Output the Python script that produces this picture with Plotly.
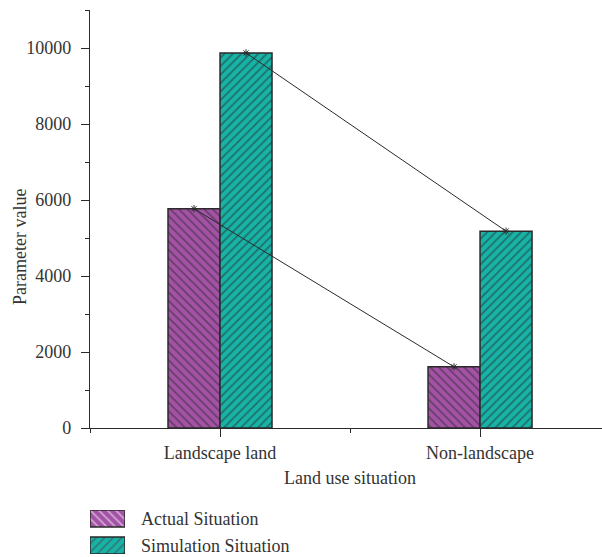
import plotly.graph_objects as go

# Data
categories = ["Landscape land", "Non-landscape"]
actual = [5770, 1610]
simulation = [9870, 5180]
series_names = ["Actual Situation", "Simulation Situation"]
y_ticks = [0, 2000, 4000, 6000, 8000, 10000]
y_tick_text = ["0", "2000", "4000", "6000", "8000", "10000"]

# Styling
PURPLE = "#a452a6"
TEAL = "#17b3a7"
DARK = "#2a2a2a"
FONT = "Liberation Serif"
BAR_W = 0.2
W, H = 602, 557
ML, MT = 90, 10
PW, PH = W - ML, H - MT

def px_x(p):
    return (p - ML) / PW

def px_y(p):
    return (H - p) / PH

xpos = list(range(len(categories)))

fig = go.Figure()

for vals, name, col, shape in [
    (actual, series_names[0], PURPLE, "\\"),
    (simulation, series_names[1], TEAL, "/"),
]:
    fig.add_trace(go.Bar(
        x=xpos, y=vals, name=name, width=BAR_W,
        marker=dict(color=col, line=dict(color=DARK, width=1.5),
                    pattern=dict(shape=shape, fgcolor=DARK, bgcolor=col,
                                 size=6, solidity=0.3, fillmode="overlay")),
        showlegend=False,
    ))

# connecting lines between bar tops of the same series
for vals, off in [(actual, -BAR_W / 2), (simulation, BAR_W / 2)]:
    fig.add_trace(go.Scatter(
        x=[i + off for i in xpos], y=vals, mode="lines+markers",
        line=dict(color=DARK, width=1),
        marker=dict(symbol="asterisk-open", size=6, color=DARK,
                    line=dict(color=DARK, width=1)),
        showlegend=False, cliponaxis=False,
    ))

# legend swatches
fig.add_trace(go.Bar(
    x=[1, 1], y=[1, 0], orientation="h", width=0.63,
    xaxis="x2", yaxis="y2", showlegend=False,
    marker=dict(color=[PURPLE, TEAL], line=dict(color=DARK, width=1.5),
                pattern=dict(shape=["\\", "/"], fgcolor=DARK,
                             size=6, solidity=0.3, fillmode="overlay")),
))

fig.update_layout(
    width=W, height=H,
    margin=dict(l=ML, r=0, t=MT, b=0, autoexpand=False),
    plot_bgcolor="white", paper_bgcolor="white",
    barmode="group", bargap=0.6, bargroupgap=0,
    font=dict(family=FONT, size=18, color="#333333"),
    xaxis=dict(
        domain=[0, 1], range=[-0.5, 1.469], automargin=False,
        tickvals=xpos, ticktext=categories,
        ticks="outside", ticklen=8, tickcolor=DARK, tickwidth=1.3,
        showline=True, linecolor=DARK, linewidth=1.3,
        showgrid=False, zeroline=False, ticklabelstandoff=0,
        minor=dict(tickvals=[-0.5, 0.5, 1.5], ticks="outside", ticklen=4,
                   tickcolor=DARK, tickwidth=1.3, showgrid=False),
    ),
    yaxis=dict(
        domain=[px_y(428), 1], range=[0, 11000], automargin=False,
        tickvals=y_ticks, ticktext=y_tick_text,
        ticks="outside", ticklen=8, tickcolor=DARK, tickwidth=1.3,
        showline=True, linecolor=DARK, linewidth=1.3,
        showgrid=False, zeroline=False, ticklabelstandoff=6,
        minor=dict(dtick=1000, tick0=0, ticks="outside", ticklen=4,
                   tickcolor=DARK, tickwidth=1.3, showgrid=False),
    ),
    xaxis2=dict(domain=[0, px_x(125)], range=[0, 1], visible=False,
                anchor="y2", fixedrange=True, automargin=False),
    yaxis2=dict(domain=[px_y(554), px_y(510)], range=[-0.315, 1.315],
                visible=False, anchor="x2", fixedrange=True, automargin=False),
    annotations=[
        dict(text="Parameter value", textangle=-90, xref="paper", yref="paper",
             x=px_x(20), y=px_y(247), showarrow=False,
             xanchor="center", yanchor="middle"),
        dict(text="Land use situation", xref="paper", yref="paper",
             x=px_x(350), y=px_y(478), showarrow=False,
             xanchor="center", yanchor="middle"),
        dict(text=series_names[0], xref="paper", yref="y2",
             x=px_x(139), y=1, showarrow=False, xanchor="left", yanchor="middle"),
        dict(text=series_names[1], xref="paper", yref="y2",
             x=px_x(139), y=0, showarrow=False, xanchor="left", yanchor="middle"),
    ],
)

fig.write_html("out.html")
